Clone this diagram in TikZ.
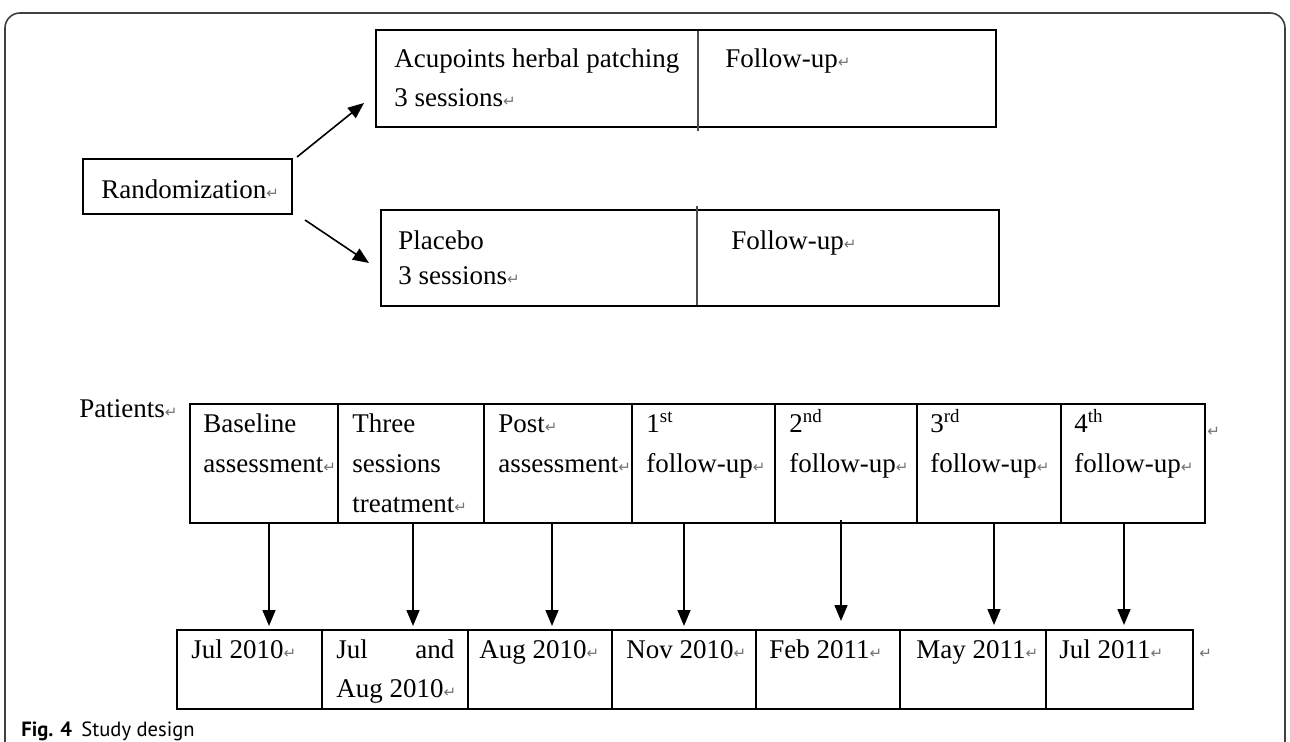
\documentclass[tikz,border=0pt]{standalone}
\usepackage{fontspec}
\setmainfont{Liberation Serif}
\newfontfamily\capfont{PT Sans}
\newfontfamily\symfont{DejaVu Sans}
\usetikzlibrary{arrows.meta,calc}
\newcommand\rt{{\symfont\fontsize{7.5}{7.5}\selectfont\textcolor{black!55}{↵}}}
\newcommand\lines[1]{\begin{tabular}[t]{@{}l@{}}#1\end{tabular}}
\begin{document}
\begin{tikzpicture}[x=0.5pt,y=-0.5pt,
  box/.style={draw,line width=1pt,inner sep=0pt,anchor=north west},
  txt/.style={anchor=base west,inner sep=0pt,font=\fontsize{13.5}{20}\selectfont},
  arr/.style={line width=0.8pt,-{Triangle[width=6.5pt,length=8pt]}},
  divider/.style={line width=0.8pt,draw=black!70}]
\useasboundingbox (0,0) rectangle (1290,742);
\clip (0,0) rectangle (1290,742);
\draw[black!75,line width=0.8pt,rounded corners=7.5pt] (5,13) rectangle (1285,800);

% upper part
\node[box,minimum width=310pt,minimum height=48.5pt] (acu) at (375,29) {};
\node[box,minimum width=104.5pt,minimum height=27.5pt] (rand) at (82,158) {};
\node[box,minimum width=309pt,minimum height=48pt] (pla) at (380,209) {};
\draw[divider] ($(acu.north west)+(323,2)$) -- ($(acu.south west)+(323,3)$);
\draw[divider] ($(pla.north west)+(317,-3)$) -- ($(pla.south west)+(317,-2)$);

\node[txt,font=\fontsize{13.5}{19.5}\selectfont] (acut) at (394,68) {\lines{Acupoints herbal patching\\3 sessions\rt}};
\node[txt] (acuf) at (725,68) {Follow-up\rt};
\node[txt] (randt) at (101,199) {Randomization\rt};
\node[txt,font=\fontsize{13.5}{17.5}\selectfont] (plat) at (398,250) {\lines{Placebo\\3 sessions\rt}};
\node[txt] (plaf) at (731,250) {Follow-up\rt};

\draw[arr] ($(rand.north east)+(4,-1)$) -- ($(acu.west)+(-11,24.5)$);
\draw[arr] ($(rand.south east)+(12,5)$) -- ($(pla.west)+(-11,5)$);

% timeline
\node[txt] (pat) at (79,418) {Patients\rt};

\node[box,minimum width=74pt,minimum height=59.5pt] (t1) at (189,403) {};
\node[box,minimum width=73pt,minimum height=59.5pt] (t2) at (337,403) {};
\node[box,minimum width=74pt,minimum height=59.5pt] (t3) at (483,403) {};
\node[box,minimum width=71.5pt,minimum height=59.5pt] (t4) at (631,403) {};
\node[box,minimum width=71pt,minimum height=59.5pt] (t5) at (774,403) {};
\node[box,minimum width=72pt,minimum height=59.5pt] (t6) at (916,403) {};
\node[box,minimum width=72pt,minimum height=59.5pt] (t7) at (1060,403) {};

\node[txt] (t1t) at (203,433) {\lines{Baseline\\assessment\rt}};
\node[txt] (t2t) at (352,433) {\lines{Three\\sessions\\treatment\rt}};
\node[txt] (t3t) at (498,433) {\lines{Post\rt\\assessment\rt}};
\node[txt] (t4t) at (646,433) {\lines{1\textsuperscript{st}\\follow-up\rt}};
\node[txt] (t5t) at (789,433) {\lines{2\textsuperscript{nd}\\follow-up\rt}};
\node[txt] (t6t) at (930,433) {\lines{3\textsuperscript{rd}\\follow-up\rt}};
\node[txt] (t7t) at (1074,433) {\lines{4\textsuperscript{th}\\follow-up\rt}};
\node[txt] (tend) at (1207,437) {\rt};

\node[box,minimum width=72.5pt,minimum height=39.5pt] (b1) at (176,629) {};
\node[box,minimum width=73pt,minimum height=39.5pt] (b2) at (321,629) {};
\node[box,minimum width=72pt,minimum height=39.5pt] (b3) at (467,629) {};
\node[box,minimum width=72pt,minimum height=39.5pt] (b4) at (611,629) {};
\node[box,minimum width=72pt,minimum height=39.5pt] (b5) at (755,629) {};
\node[box,minimum width=73pt,minimum height=39.5pt] (b6) at (899,629) {};
\node[box,minimum width=73.5pt,minimum height=39.5pt] (b7) at (1045,629) {};

\node[txt] (b1t) at (191,658) {Jul 2010\rt};
\node[txt,font=\fontsize{13.5}{19.5}\selectfont] (b2t) at (336,658) {\lines{\makebox[59pt][s]{Jul and}\\Aug 2010\rt}};
\node[txt] (b3t) at (479,658) {Aug 2010\rt};
\node[txt] (b4t) at (626,658) {Nov 2010\rt};
\node[txt] (b5t) at (769,658) {Feb 2011\rt};
\node[txt] (b6t) at (916,658) {May 2011\rt};
\node[txt] (b7t) at (1059,658) {Jul 2011\rt};
\node[txt] (bend) at (1199,658) {\rt};

\draw[arr] ([xshift=2.5pt]t1.south) -- ([xshift=2.5pt,yshift=1.5pt]t1.south |- b1.north);
\draw[arr] ([xshift=1pt]t2.south) -- ([xshift=1pt,yshift=1.5pt]t2.south |- b2.north);
\draw[arr] ([xshift=-3pt]t3.south) -- ([xshift=-3pt,yshift=1.5pt]t3.south |- b3.north);
\draw[arr] ([xshift=-9.75pt]t4.south) -- ([xshift=-9.75pt,yshift=1.5pt]t4.south |- b4.north);
\draw[arr] ([xshift=-2.5pt,yshift=2pt]t5.south) -- ([xshift=-2.5pt,yshift=4pt]t5.south |- b5.north);
\draw[arr] ([xshift=2.5pt]t6.south) -- ([xshift=2.5pt,yshift=2pt]t6.south |- b6.north);
\draw[arr] ([xshift=-4.5pt]t7.south) -- ([xshift=-4.5pt,yshift=2pt]t7.south |- b7.north);

\node[anchor=base west,inner sep=0pt,font=\capfont\fontsize{10.3}{12}\selectfont] (cap) at (21,736) {\textbf{Fig. 4}\hspace{0.45em}Study design};
\end{tikzpicture}
\end{document}
